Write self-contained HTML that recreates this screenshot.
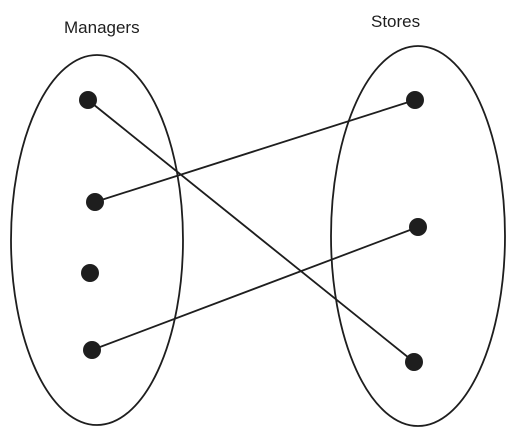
<!DOCTYPE html>
<html><head><style>
html,body{margin:0;padding:0;background:#fff;}
</style></head><body>
<svg width="513" height="428" viewBox="0 0 513 428" xmlns="http://www.w3.org/2000/svg">
<g fill="none" stroke="#1e1e1e" stroke-width="1.8" stroke-linecap="round">
<ellipse cx="97" cy="240" rx="86" ry="185"/>
<ellipse cx="418" cy="236" rx="87" ry="190"/>
<line x1="88" y1="100" x2="414" y2="362"/>
<line x1="90" y1="102" x2="415" y2="363" stroke-width="1"/>
<line x1="95" y1="202" x2="415" y2="100"/>
<line x1="92" y1="350" x2="418" y2="227"/>
</g>
<g fill="#1e1e1e">
<circle cx="88" cy="100" r="9"/>
<circle cx="95" cy="202" r="9"/>
<circle cx="90" cy="273" r="9"/>
<circle cx="92" cy="350" r="9"/>
<circle cx="415" cy="100" r="9"/>
<circle cx="418" cy="227" r="9"/>
<circle cx="414" cy="362" r="9"/>
</g>
<g font-family="Liberation Sans, sans-serif" font-size="17" fill="#1e1e1e">
<text x="64" y="33">Managers</text>
<text x="371" y="27">Stores</text>
</g>
</svg>
</body></html>
